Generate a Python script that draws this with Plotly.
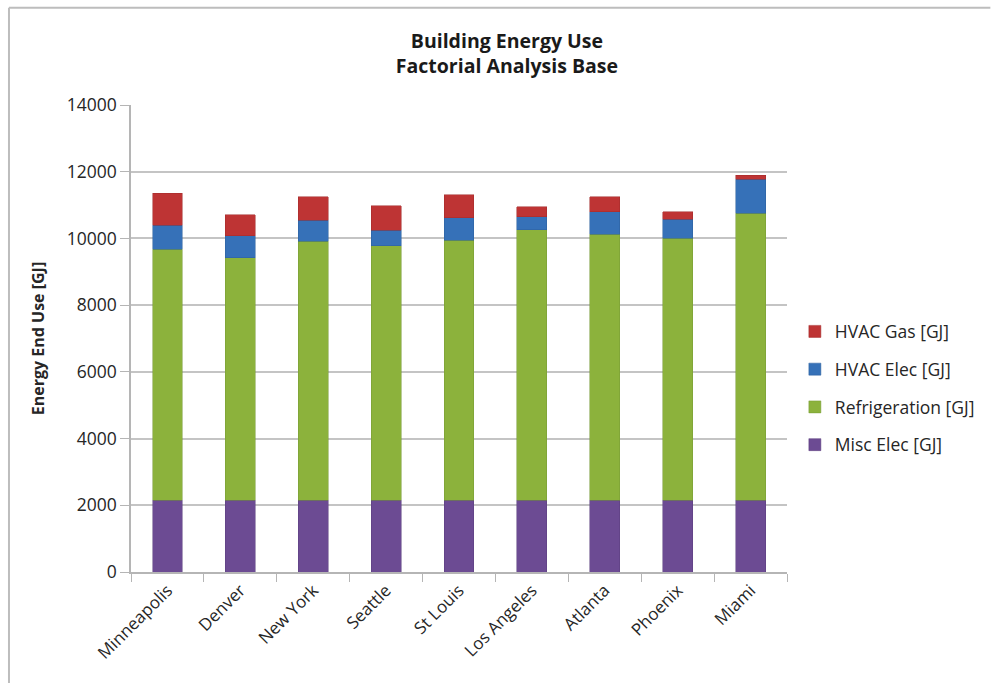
import plotly.graph_objects as go

cities = ["Minneapolis", "Denver", "New York", "Seattle", "St Louis",
          "Los Angeles", "Atlanta", "Phoenix", "Miami"]
misc_elec = [2150, 2150, 2150, 2150, 2150, 2150, 2150, 2150, 2150]
refrigeration = [7530, 7265, 7760, 7630, 7800, 8110, 7980, 7850, 8600]
hvac_elec = [716, 665, 640, 468, 675, 397, 667, 579, 1027]
hvac_gas = [955, 627, 696, 726, 686, 298, 448, 218, 119]

series = [
    ("Misc Elec [GJ]", misc_elec, "#6c4b93", "#5a3d7d"),
    ("Refrigeration [GJ]", refrigeration, "#8cb23c", "#769a33"),
    ("HVAC Elec [GJ]", hvac_elec, "#3671b8", "#2c5f9c"),
    ("HVAC Gas [GJ]", hvac_gas, "#be3434", "#a22a2a"),
]

font = "Open Sans, Liberation Sans, sans-serif"

fig = go.Figure()
for i, (name, vals, col, edge) in enumerate(series):
    fig.add_trace(go.Bar(
        x=cities, y=vals, name=name, legendgroup=name,
        legendrank=len(series) - i,
        marker=dict(color=col, line=dict(color=edge, width=0.5)),
    ))

fig.update_layout(
    barmode="stack",
    bargap=0.59,
    width=992, height=683,
    margin=dict(l=131, r=200, t=105, b=111),
    paper_bgcolor="white",
    plot_bgcolor="white",
    font=dict(family=font, size=15, color="#262626"),
    title=dict(
        text="<b>Building Energy Use<br>Factorial Analysis Base</b>",
        x=0.511, xanchor="center", y=0.93, yanchor="top",
        font=dict(family=font, size=19.5, color="#1a1a1a"),
    ),
    legend=dict(
        traceorder="grouped",
        x=1.012, xanchor="left", y=0.394, yanchor="middle",
        font=dict(family=font, size=17.5, color="#262626"),
        itemwidth=30, tracegroupgap=12,
    ),
    shapes=[
        dict(type="line", xref="paper", yref="paper",
             x0=-0.186, x1=1.31, y0=1.208, y1=1.208,
             line=dict(color="#bdbdbd", width=2)),
        dict(type="line", xref="paper", yref="paper",
             x0=-0.186, x1=-0.186, y0=1.208, y1=-0.25,
             line=dict(color="#bdbdbd", width=2)),
    ],
)

fig.update_yaxes(
    range=[0, 14000], dtick=2000, tickformat="d",
    showgrid=True, gridcolor="#c4c4c4", gridwidth=1.5,
    showline=True, linecolor="#b5b5b5", linewidth=1.5,
    ticks="outside", ticklen=9, tickcolor="#b5b5b5",
    tickfont=dict(size=17.5),
    title=dict(text="<b>Energy End Use [GJ]</b>", font=dict(size=16), standoff=18),
    zeroline=False,
)
fig.update_xaxes(
    showline=True, linecolor="#b5b5b5", linewidth=1.5,
    ticks="outside", ticklen=8, tickcolor="#b5b5b5", tickson="boundaries",
    tickangle=-45, tickfont=dict(size=17),
)

fig.write_html("out.html")
